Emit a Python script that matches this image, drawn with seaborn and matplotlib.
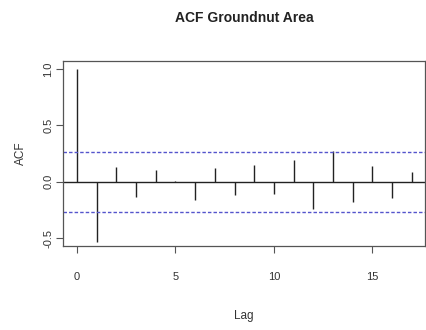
import numpy as np
import pandas as pd
import matplotlib
matplotlib.use("Agg")
import matplotlib.pyplot as plt
import seaborn as sns

lags = list(range(0, 18))
acf_values = [1.0, -0.53, 0.135, -0.135, 0.105, 0.01, -0.165, 0.12, -0.12,
              0.145, -0.105, 0.19, -0.24, 0.27, -0.18, 0.14, -0.14, 0.09]
ci_bound = 0.268
x_ticks = [0, 5, 10, 15]
y_ticks = [-0.5, 0.0, 0.5, 1.0]
y_tick_labels = ["-0.5", "0.0", "0.5", "1.0"]

sns.set_theme(style="white")
plt.rcParams['font.family'] = ['Liberation Sans', 'DejaVu Sans']

df = pd.DataFrame({"Lag": lags, "ACF": acf_values})

fig = plt.figure(figsize=(4.27, 3.30), dpi=100)
ax = fig.add_axes([0.1475, 0.2545, 0.8475, 0.5605])

ax.vlines(df["Lag"], 0, df["ACF"], color="#222222", lw=1.0)
sns.lineplot(x=[-1, 19], y=[0, 0], ax=ax, color="#222222", lw=1.0)
ax.axhline(ci_bound, color="#5555cc", lw=1.0, ls=(0, (2.5, 1.5)))
ax.axhline(-ci_bound, color="#5555cc", lw=1.0, ls=(0, (2.5, 1.5)))

ax.set_xlim(-0.71, 17.66)
ax.set_ylim(-0.57, 1.07)
ax.set_xticks(x_ticks)
ax.set_xticklabels([str(t) for t in x_ticks], fontsize=8, color="#333333")
ax.set_yticks(y_ticks)
ax.set_yticklabels(y_tick_labels, fontsize=8, color="#333333", rotation=90, va="center")
ax.tick_params(axis="both", direction="out", length=5, width=0.8, color="#555555",
               bottom=True, left=True, pad=14)
ax.tick_params(axis="y", pad=2)
for s in ax.spines.values():
    s.set_color("#555555")
    s.set_linewidth(0.9)

ax.set_xlabel("Lag", fontsize=8.5, color="#333333", labelpad=20)
ax.set_ylabel("ACF", fontsize=8.5, color="#333333", labelpad=12)
fig.text(0.571, 0.945, "ACF Groundnut Area", ha="center", va="center",
         fontsize=10, fontweight="bold", color="#222222")

fig.savefig("out.png", dpi=100)
